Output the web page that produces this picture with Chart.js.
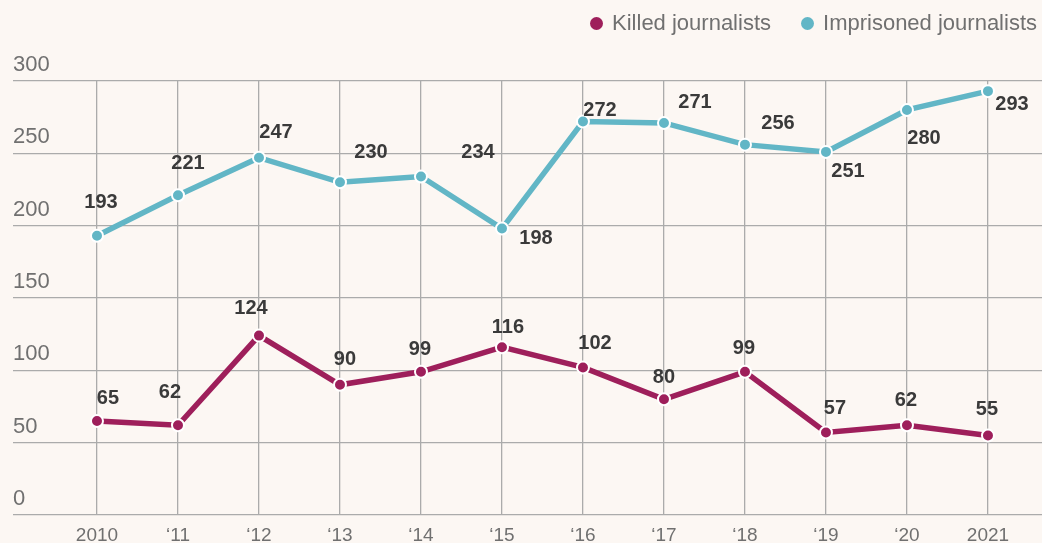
<!DOCTYPE html>
<html>
<head>
<meta charset="utf-8">
<script src="https://cdn.jsdelivr.net/npm/chart.js@4.4.1/dist/chart.umd.min.js"></script>
<style>
  html, body { margin: 0; padding: 0; background: #fcf7f3; }
  #wrap { position: relative; width: 1042px; height: 543px; }
  #legend {
    position: absolute; top: 12px; right: 5px;
    display: flex; align-items: center;
    font: 22px "Liberation Sans", Arial, sans-serif; line-height: 22px; color: #707070;
  }
  .item { display: flex; align-items: center; }
  .item + .item { margin-left: 30px; }
  .dot { width: 13px; height: 13px; border-radius: 50%; margin-right: 9px; }
</style>
</head>
<body>
<div id="wrap">
  <canvas id="chart"></canvas>
  <div id="legend"></div>
</div>
<script>
// Years on the horizontal axis
const years = ['2010', '\u201811', '\u201812', '\u201813', '\u201814', '\u201815',
               '\u201816', '\u201817', '\u201818', '\u201819', '\u201820', '2021'];

// Journalists killed per year
const killed = [65, 62, 124, 90, 99, 116, 102, 80, 99, 57, 62, 55];

// Journalists imprisoned per year
const imprisoned = [193, 221, 247, 230, 234, 198, 272, 271, 256, 251, 280, 293];

// Vertical axis ticks
const yTicks = [0, 50, 100, 150, 200, 250, 300];

const seriesNames = ['Killed journalists', 'Imprisoned journalists'];
const seriesColors = ['#9e1f5b', '#62b6c6'];

// Where each value label sits relative to its point (px)
const killedLabelShift = [[11,-23],[-8,-34],[-8,-28],[5,-26],[-1,-23],[6,-21],[12,-25],[0,-23],[-1,-24],[9,-25],[-1,-26],[-1,-27]];
const imprisonedLabelShift = [[4,-34],[10,-33],[17,-26],[31,-31],[57,-25],[34,9],[17,-12],[31,-21],[33,-22],[22,19],[17,28],[24,12]];

const FONT = '"Liberation Sans", Arial, sans-serif';

// Legend
const legendEl = document.getElementById('legend');
seriesNames.forEach((name, i) => {
  const item = document.createElement('div');
  item.className = 'item';
  const dot = document.createElement('span');
  dot.className = 'dot';
  dot.style.background = seriesColors[i];
  const txt = document.createElement('span');
  txt.textContent = name;
  item.appendChild(dot);
  item.appendChild(txt);
  legendEl.appendChild(item);
});

// Draws the value next to every point
const valueLabels = {
  id: 'valueLabels',
  afterDatasetsDraw(chart) {
    const ctx = chart.ctx;
    ctx.save();
    ctx.font = 'bold 20px ' + FONT;
    ctx.fillStyle = '#3a3a3a';
    ctx.textAlign = 'center';
    ctx.textBaseline = 'middle';
    chart.data.datasets.forEach((ds, di) => {
      const meta = chart.getDatasetMeta(di);
      meta.data.forEach((pt, i) => {
        const [dx, dy] = ds.labelShift[i];
        ctx.fillText(String(ds.data[i].y), pt.x + dx, pt.y + dy + 1);
      });
    });
    ctx.restore();
  }
};

const toPoints = arr => arr.map((v, i) => ({ x: i, y: v }));

const lineStyle = color => ({
  borderColor: color,
  backgroundColor: color,
  borderWidth: 5.5,
  pointRadius: 6,
  pointBorderWidth: 2,
  pointBorderColor: '#ffffff',
  pointBackgroundColor: color,
  pointHoverRadius: 6,
  tension: 0,
  fill: false
});

new Chart(document.getElementById('chart'), {
  type: 'line',
  data: {
    datasets: [
      Object.assign({ label: seriesNames[0], data: toPoints(killed), labelShift: killedLabelShift }, lineStyle(seriesColors[0])),
      Object.assign({ label: seriesNames[1], data: toPoints(imprisoned), labelShift: imprisonedLabelShift }, lineStyle(seriesColors[1]))
    ]
  },
  options: {
    responsive: true,
    maintainAspectRatio: false,
    animation: false,
    events: [],
    layout: { autoPadding: false, padding: { left: 13, top: 81, right: 0, bottom: 0 } },
    plugins: { legend: { display: false }, tooltip: { enabled: false } },
    scales: {
      x: {
        type: 'linear',
        min: -1.037,
        max: 11.667,
        border: { display: false },
        grid: { color: '#ababab', lineWidth: 1.3, drawTicks: false },
        afterBuildTicks: scale => { scale.ticks = years.map((_, i) => ({ value: i })); },
        afterFit: scale => { scale.height = 28; },
        ticks: {
          autoSkip: false,
          maxRotation: 0,
          padding: 11,
          color: '#707070',
          font: { family: FONT, size: 19, lineHeight: 1 },
          callback: v => years[v]
        }
      },
      y: {
        min: 0,
        max: 300,
        border: { display: false },
        grid: { color: '#ababab', lineWidth: 1.3, drawTicks: false },
        afterBuildTicks: scale => { scale.ticks = yTicks.map(v => ({ value: v })); },
        ticks: {
          mirror: true,
          padding: 0,
          labelOffset: -16,
          color: '#707070',
          font: { family: FONT, size: 22 }
        }
      }
    }
  },
  plugins: [valueLabels]
});
</script>
</body>
</html>
